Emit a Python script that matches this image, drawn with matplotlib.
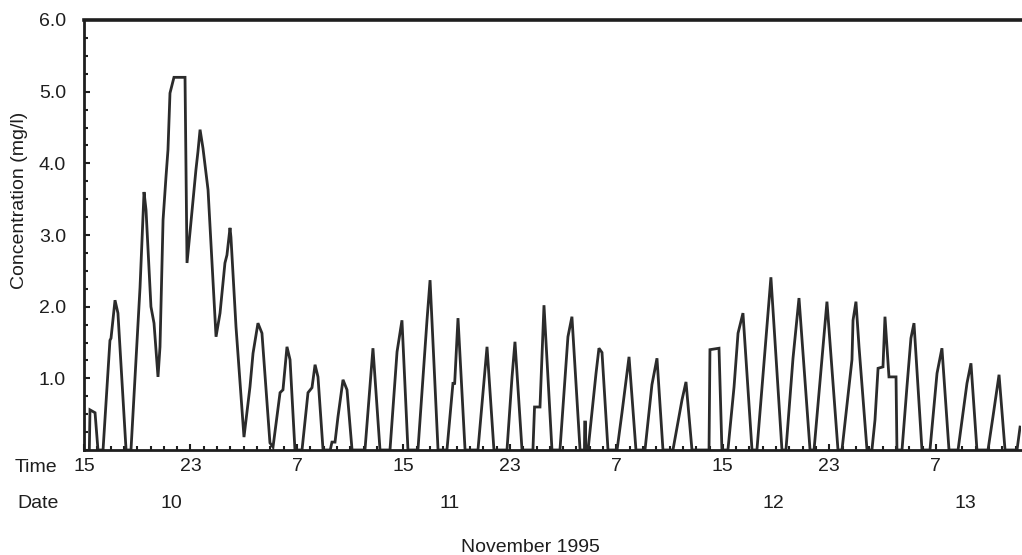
import matplotlib
matplotlib.use("Agg")
from matplotlib import pyplot as plt
from matplotlib import transforms
from matplotlib.ticker import MultipleLocator, FixedLocator

plt.rcParams["font.family"] = ["Liberation Sans", "DejaVu Sans"]

# hours counted from 00:00 on 10 November 1995
hours = [
    15.40, 15.45, 15.83, 16.05, 16.43, 16.95, 17.03, 17.33, 17.55, 18.16,
    18.53, 19.21, 19.51, 19.66, 20.03, 20.26, 20.56, 20.71, 20.94, 21.16,
    21.31, 21.46, 21.76, 22.59, 22.74, 22.96, 23.41, 23.56, 23.72, 23.94,
    24.32, 24.92, 25.22, 25.59, 25.74, 25.97, 26.04, 26.42, 27.02, 27.47,
    27.70, 28.07, 28.37, 28.97, 29.20, 29.73, 29.95, 30.25, 30.48, 30.85,
    31.38, 31.83, 32.13, 32.36, 32.58, 32.96, 33.50, 33.63, 33.86, 34.08,
    34.46, 34.76, 35.14, 36.11, 36.71, 37.24, 37.99, 38.52, 38.89, 39.34,
    40.09, 40.77, 41.00, 41.60, 42.27, 42.72, 42.85, 43.10, 43.63, 44.60,
    45.28, 45.80, 46.78, 47.16, 47.38, 47.91, 48.73, 48.85, 49.26, 49.56,
    50.16, 50.76, 51.36, 51.66, 52.27, 52.60, 52.62, 52.68, 52.70, 52.87,
    53.47, 53.69, 53.92, 54.37, 55.05, 55.42, 55.95, 56.47, 57.15, 57.67,
    58.05, 58.50, 59.25, 59.93, 60.23, 60.68, 61.96, 62.03, 62.71, 62.93,
    63.38, 63.84, 64.14, 64.51, 65.19, 65.56, 66.09, 66.61, 67.44, 67.74,
    68.27, 68.72, 69.55, 69.85, 70.82, 71.65, 71.95, 72.70, 72.78, 73.00,
    73.23, 73.83, 74.20, 74.43, 74.66, 75.03, 75.18, 75.48, 76.01, 76.08,
    76.46, 76.83, 77.13, 77.36, 77.96, 78.56, 79.09, 79.46, 79.99, 80.67,
    81.34, 81.64, 82.09, 82.92, 83.29, 83.75, 84.20, 85.10, 85.33,
]
conc = [
    0.00, 0.56, 0.52, 0.00, 0.00, 1.53, 1.56, 2.09, 1.91, 0.00,
    0.00, 2.27, 3.60, 3.35, 2.00, 1.77, 1.02, 1.44, 3.21, 3.81,
    4.19, 4.98, 5.20, 5.20, 2.61, 3.03, 3.91, 4.16, 4.47, 4.21,
    3.63, 1.58, 1.91, 2.61, 2.72, 3.10, 2.97, 1.72, 0.18, 0.88,
    1.35, 1.77, 1.63, 0.10, 0.04, 0.80, 0.84, 1.44, 1.26, 0.00,
    0.00, 0.80, 0.87, 1.19, 1.02, 0.00, 0.00, 0.11, 0.11, 0.46,
    0.98, 0.84, 0.00, 0.00, 1.42, 0.00, 0.00, 1.37, 1.81, 0.00,
    0.00, 1.81, 2.37, 0.00, 0.00, 0.93, 0.93, 1.84, 0.00, 0.00,
    1.44, 0.00, 0.00, 1.02, 1.51, 0.00, 0.00, 0.60, 0.60, 2.02,
    0.00, 0.00, 1.58, 1.86, 0.00, 0.00, 0.39, 0.39, 0.00, 0.00,
    1.07, 1.42, 1.36, 0.00, 0.00, 0.52, 1.30, 0.00, 0.00, 0.91,
    1.28, 0.00, 0.00, 0.70, 0.95, 0.00, 0.00, 1.40, 1.42, 0.00,
    0.00, 0.88, 1.63, 1.91, 0.00, 0.00, 1.21, 2.41, 0.00, 0.00,
    1.28, 2.12, 0.00, 0.00, 2.07, 0.00, 0.00, 1.26, 1.81, 2.07,
    1.44, 0.00, 0.00, 0.42, 1.14, 1.16, 1.86, 1.02, 1.02, 0.00,
    0.00, 0.88, 1.56, 1.77, 0.00, 0.00, 1.07, 1.42, 0.00, 0.00,
    0.93, 1.21, 0.00, 0.00, 0.46, 1.05, 0.00, 0.00, 0.32,
]

time_ticks = [15, 23, 31, 39, 47, 55, 63, 71, 79]
time_labels = [str(h % 24) for h in time_ticks]
date_labels = ["10", "11", "12", "13"]
date_pos = [21.6, 42.5, 66.8, 81.2]

ink = "#1e1e1e"
fs = 14

fig = plt.figure(figsize=(10.22, 5.55), dpi=100)
ax = fig.add_axes([84 / 1022, 105 / 555, 937 / 1022, 430 / 555])

ax.plot(hours, conc, color="#2b2b2b", linewidth=2.0, solid_joinstyle="miter")

ax.set_xlim(15, 85.4)
ax.set_ylim(0, 6)

ax.spines["right"].set_visible(False)
ax.spines["top"].set_linewidth(2.6)
ax.spines["left"].set_linewidth(2.0)
ax.spines["bottom"].set_linewidth(2.0)
for s in ax.spines.values():
    s.set_color(ink)

ax.yaxis.set_major_locator(MultipleLocator(1))
ax.yaxis.set_minor_locator(MultipleLocator(0.25))
ax.set_yticklabels(["" if v == 0 else f"{v:.1f}" for v in ax.get_yticks()])

ax.xaxis.set_major_locator(FixedLocator(time_ticks))
ax.xaxis.set_minor_locator(MultipleLocator(1))
ax.set_xticklabels(time_labels)

ax.tick_params(which="both", direction="in", color=ink, width=1.5)
ax.tick_params(which="major", length=4, labelsize=fs, labelcolor=ink)
ax.tick_params(which="minor", length=3)
ax.tick_params(axis="y", pad=13)
ax.tick_params(axis="x", pad=6)

fig.text(15 / 1022, 1 - 467 / 555, "Time", fontsize=fs, color=ink,
         ha="left", va="center")
fig.text(17 / 1022, 1 - 503 / 555, "Date", fontsize=fs, color=ink,
         ha="left", va="center")

trans = transforms.blended_transform_factory(ax.transData, fig.transFigure)
for pos, lab in zip(date_pos, date_labels):
    ax.text(pos, 1 - 503 / 555, lab, transform=trans, fontsize=fs,
            color=ink, ha="center", va="center")

fig.text(530 / 1022, 1 - 547 / 555, "November 1995", fontsize=fs,
         color=ink, ha="center", va="center")
fig.text(20 / 1022, 1 - 200 / 555, "Concentration (mg/l)", fontsize=fs,
         color=ink, rotation=90, ha="center", va="center")

fig.savefig("out.png", dpi=100)
